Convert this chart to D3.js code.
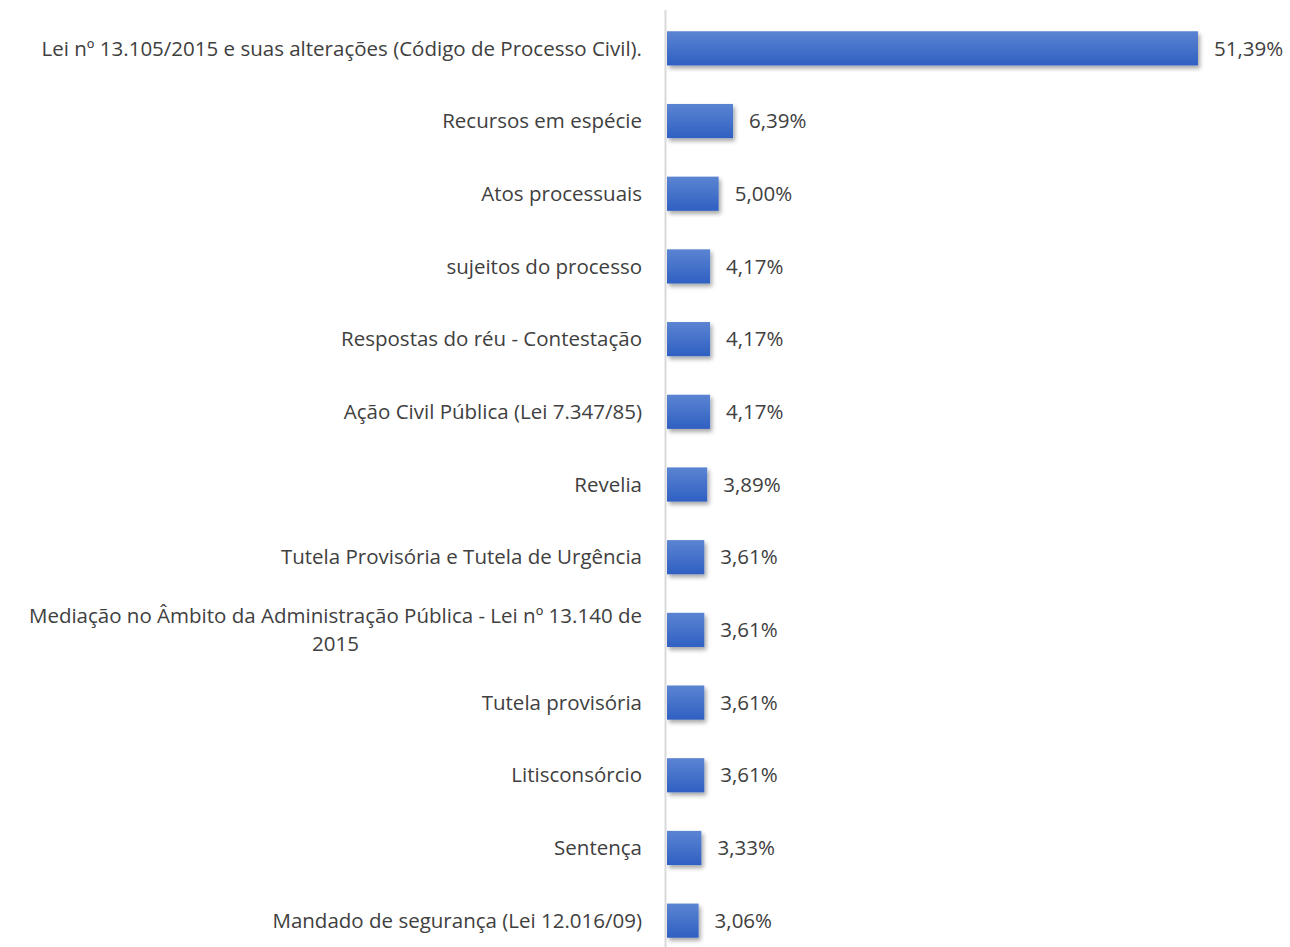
<!DOCTYPE html>
<html>
<head>
<meta charset="utf-8">
<script src="https://cdn.jsdelivr.net/npm/d3@7"></script>
<style>
  body { margin: 0; background: #fff; }
  text { font-family: "Open Sans", "Noto Sans", sans-serif; fill: #404040; }
</style>
</head>
<body>
<svg id="chart" width="1290" height="947"></svg>
<script>
// categories top to bottom, "\n" marks the wrapped label
const categories = [
  "Lei nº 13.105/2015 e suas alterações (Código de Processo Civil).",
  "Recursos em espécie",
  "Atos processuais",
  "sujeitos do processo",
  "Respostas do réu - Contestação",
  "Ação Civil Pública (Lei 7.347/85)",
  "Revelia",
  "Tutela Provisória e Tutela de Urgência",
  "Mediação no Âmbito da Administração Pública - Lei nº 13.140 de\n2015",
  "Tutela provisória",
  "Litisconsórcio",
  "Sentença",
  "Mandado de segurança (Lei 12.016/09)"
];
const values = [51.39, 6.39, 5.00, 4.17, 4.17, 4.17, 3.89, 3.61, 3.61, 3.61, 3.61, 3.33, 3.06];
const valueLabels = ["51,39%", "6,39%", "5,00%", "4,17%", "4,17%", "4,17%", "3,89%", "3,61%", "3,61%", "3,61%", "3,61%", "3,33%", "3,06%"];

const data = categories.map((c, i) => ({ cat: c, value: values[i], label: valueLabels[i] }));

var svg = d3.select("#chart"),
  margin = { top: 12, left: 667 },
  height = 945;

var defs = svg.append("defs");
var grad = defs.append("linearGradient")
  .attr("id", "barGrad")
  .attr("x1", 0).attr("y1", 0).attr("x2", 0).attr("y2", 1);
grad.append("stop").attr("offset", "0%").attr("stop-color", "#5b84d2");
grad.append("stop").attr("offset", "100%").attr("stop-color", "#2f60c2");

var shadow = defs.append("filter")
  .attr("id", "shadow")
  .attr("x", "-10%").attr("y", "-20%").attr("width", "130%").attr("height", "160%");
shadow.append("feDropShadow")
  .attr("dx", 2).attr("dy", 3).attr("stdDeviation", 2)
  .attr("flood-color", "#000").attr("flood-opacity", 0.35);

var x = d3.scaleLinear().domain([0, 51.39]).range([0, 531]);
var y = d3.scaleBand().domain(categories).range([0, height])
  .paddingInner(0.53).paddingOuter(0.265);

var g = svg.append("g")
  .attr("transform", "translate(" + margin.left + "," + margin.top + ")");

// vertical axis line
svg.append("line")
  .attr("x1", 665.5).attr("x2", 665.5)
  .attr("y1", 10).attr("y2", 947)
  .attr("stroke", "#d9d9d9")
  .attr("stroke-width", 2);

g.selectAll(".bar")
  .data(data)
  .enter()
  .append("rect")
  .attr("class", "bar")
  .attr("x", 0)
  .attr("y", d => y(d.cat))
  .attr("height", y.bandwidth())
  .attr("width", d => x(d.value))
  .attr("fill", "url(#barGrad)")
  .attr("filter", "url(#shadow)");

g.selectAll(".val")
  .data(data)
  .enter()
  .append("text")
  .attr("class", "val")
  .attr("x", d => x(d.value) + 16)
  .attr("y", d => y(d.cat) + y.bandwidth() / 2)
  .attr("dy", "0.35em")
  .style("font-size", "20.5px")
  .text(d => d.label);

// category labels, wrapped ones centred as a block against the axis
var labelRight = -25;
g.selectAll(".cat")
  .data(data)
  .enter()
  .append("text")
  .attr("class", "cat")
  .style("font-size", "20.5px")
  .each(function(d) {
    var t = d3.select(this);
    var lines = d.cat.split("\n");
    var cy = y(d.cat) + y.bandwidth() / 2;
    if (lines.length === 1) {
      t.attr("x", labelRight).attr("y", cy).attr("dy", "0.35em")
        .attr("text-anchor", "end").text(lines[0]);
    } else {
      var lh = 28;
      lines.forEach((ln, i) => {
        t.append("tspan")
          .attr("y", cy + (i - (lines.length - 1) / 2) * lh)
          .attr("dy", "0.35em")
          .text(ln);
      });
      var maxW = 0;
      t.selectAll("tspan").each(function() {
        maxW = Math.max(maxW, this.getComputedTextLength());
      });
      t.attr("text-anchor", "middle");
      t.selectAll("tspan").attr("x", labelRight - maxW / 2);
    }
  });
</script>
</body>
</html>
